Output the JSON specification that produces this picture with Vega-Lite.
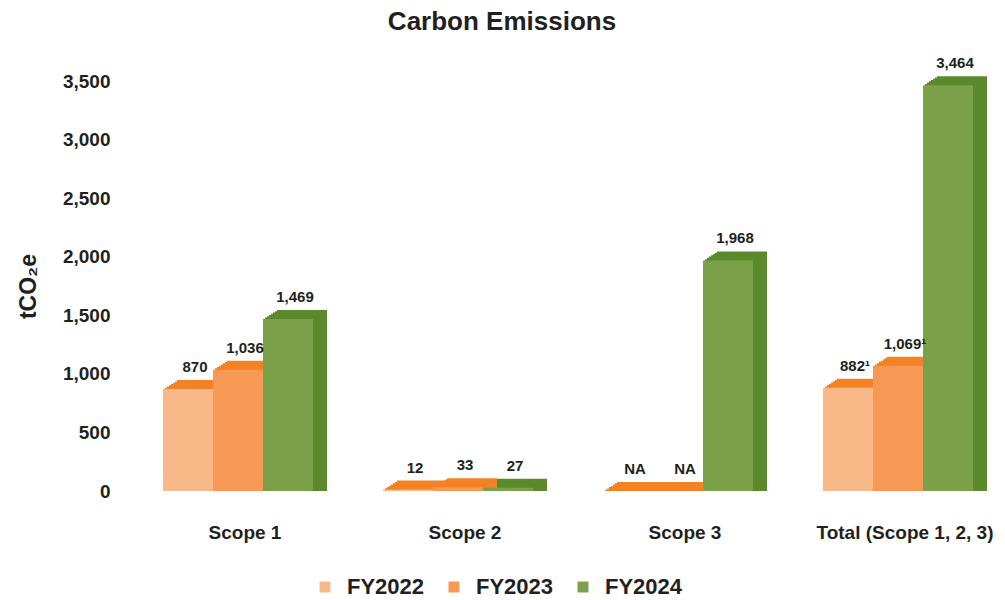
{
  "$schema": "https://vega.github.io/schema/vega-lite/v6.json",
  "autosize": {"type": "none"},
  "padding": {"left": 150, "top": 81, "right": 19, "bottom": 109},
  "width": 836,
  "height": 410,
  "background": "white",
  "title": {
    "text": "Carbon Emissions",
    "font": "Liberation Sans",
    "fontSize": 26,
    "fontWeight": "bold",
    "color": "#231F20",
    "anchor": "middle",
    "frame": "group",
    "dx": -66,
    "offset": 21
  },
  "data": {
    "values": [
      {"scope": "Scope 1", "year": "FY2022", "value": 870, "label": "870"},
      {"scope": "Scope 1", "year": "FY2023", "value": 1036, "label": "1,036"},
      {"scope": "Scope 1", "year": "FY2024", "value": 1469, "label": "1,469"},
      {"scope": "Scope 2", "year": "FY2022", "value": 12, "label": "12"},
      {"scope": "Scope 2", "year": "FY2023", "value": 33, "label": "33"},
      {"scope": "Scope 2", "year": "FY2024", "value": 27, "label": "27"},
      {"scope": "Scope 3", "year": "FY2022", "value": 0, "label": "NA"},
      {"scope": "Scope 3", "year": "FY2023", "value": 0, "label": "NA"},
      {"scope": "Scope 3", "year": "FY2024", "value": 1968, "label": "1,968"},
      {"scope": "Total (Scope 1, 2, 3)", "year": "FY2022", "value": 882, "label": "882¹"},
      {"scope": "Total (Scope 1, 2, 3)", "year": "FY2023", "value": 1069, "label": "1,069¹"},
      {"scope": "Total (Scope 1, 2, 3)", "year": "FY2024", "value": 3464, "label": "3,464"}
    ]
  },
  "encoding": {
    "x": {
      "field": "scope",
      "type": "nominal",
      "sort": null,
      "scale": {"paddingInner": 0.318182, "paddingOuter": 0.059091},
      "axis": {
        "title": null,
        "labelAngle": 0,
        "domain": false,
        "ticks": false,
        "labelPadding": 32,
        "labelOffset": 7,
        "labelFont": "Liberation Sans",
        "labelFontSize": 19,
        "labelFontWeight": "bold",
        "labelColor": "#231F20"
      }
    },
    "y": {
      "field": "value",
      "type": "quantitative",
      "stack": null,
      "scale": {"domain": [0, 3500], "nice": false},
      "axis": {
        "title": "tCO₂e",
        "titleFont": "Liberation Sans",
        "titleFontSize": 23,
        "titleFontWeight": "bold",
        "titleColor": "#231F20",
        "titlePadding": 22,
        "values": [0, 500, 1000, 1500, 2000, 2500, 3000, 3500],
        "format": ",.0f",
        "grid": false,
        "domain": false,
        "ticks": false,
        "labelPadding": 40,
        "labelFont": "Liberation Sans",
        "labelFontSize": 19,
        "labelFontWeight": "bold",
        "labelColor": "#231F20"
      }
    }
  },
  "layer": [
    {
      "mark": {"type": "bar", "yOffset": -1.3, "y2Offset": 0},
      "encoding": {
        "xOffset": {"field": "year", "type": "nominal", "scale": {"range": [2, 152], "paddingInner": 0}},
        "color": {"condition": {"test": "datum.year === 'FY2024'", "value": "#5A8A2B"}, "value": "#F28224"}
      }
    },
    {
      "mark": {"type": "bar", "yOffset": -2.6, "y2Offset": 0},
      "encoding": {
        "xOffset": {"field": "year", "type": "nominal", "scale": {"range": [4, 154], "paddingInner": 0}},
        "color": {"condition": {"test": "datum.year === 'FY2024'", "value": "#5A8A2B"}, "value": "#F28224"}
      }
    },
    {
      "mark": {"type": "bar", "yOffset": -3.9, "y2Offset": 0},
      "encoding": {
        "xOffset": {"field": "year", "type": "nominal", "scale": {"range": [6, 156], "paddingInner": 0}},
        "color": {"condition": {"test": "datum.year === 'FY2024'", "value": "#5A8A2B"}, "value": "#F28224"}
      }
    },
    {
      "mark": {"type": "bar", "yOffset": -5.1, "y2Offset": 0},
      "encoding": {
        "xOffset": {"field": "year", "type": "nominal", "scale": {"range": [8, 158], "paddingInner": 0}},
        "color": {"condition": {"test": "datum.year === 'FY2024'", "value": "#5A8A2B"}, "value": "#F28224"}
      }
    },
    {
      "mark": {"type": "bar", "yOffset": -6.4, "y2Offset": 0},
      "encoding": {
        "xOffset": {"field": "year", "type": "nominal", "scale": {"range": [10, 160], "paddingInner": 0}},
        "color": {"condition": {"test": "datum.year === 'FY2024'", "value": "#5A8A2B"}, "value": "#F28224"}
      }
    },
    {
      "mark": {"type": "bar", "yOffset": -7.7, "y2Offset": 0},
      "encoding": {
        "xOffset": {"field": "year", "type": "nominal", "scale": {"range": [12, 162], "paddingInner": 0}},
        "color": {"condition": {"test": "datum.year === 'FY2024'", "value": "#5A8A2B"}, "value": "#F28224"}
      }
    },
    {
      "mark": {"type": "bar", "yOffset": -9, "y2Offset": 0},
      "encoding": {
        "xOffset": {"field": "year", "type": "nominal", "scale": {"range": [14, 164], "paddingInner": 0}},
        "color": {"condition": {"test": "datum.year === 'FY2024'", "value": "#5A8A2B"}, "value": "#F28224"}
      }
    },
    {
      "mark": {"type": "bar"},
      "encoding": {
        "xOffset": {"field": "year", "type": "nominal", "scale": {"paddingInner": 0}},
        "color": {
          "field": "year",
          "type": "nominal",
          "scale": {"domain": ["FY2022", "FY2023", "FY2024"], "range": ["#F8B888", "#F79855", "#7AA14A"]},
          "legend": {
            "title": null,
            "orient": "none",
            "legendX": 164,
            "legendY": 495,
            "direction": "horizontal",
            "columns": 3,
            "symbolType": "square",
            "symbolSize": 121,
            "symbolStrokeWidth": 0,
            "labelOffset": 11,
            "columnPadding": 18,
            "labelFont": "Liberation Sans",
            "labelFontSize": 22,
            "labelFontWeight": "bold",
            "labelColor": "#231F20"
          }
        }
      }
    },
    {
      "mark": {
        "type": "text",
        "baseline": "middle",
        "align": "center",
        "dy": -22,
        "font": "Liberation Sans",
        "fontSize": 15,
        "fontWeight": "bold",
        "color": "#231F20"
      },
      "encoding": {
        "xOffset": {"field": "year", "type": "nominal", "scale": {"range": [7, 157], "paddingInner": 0}},
        "text": {"field": "label", "type": "nominal"}
      }
    }
  ],
  "resolve": {"scale": {"xOffset": "independent", "color": "independent"}},
  "config": {"view": {"stroke": null}}
}
